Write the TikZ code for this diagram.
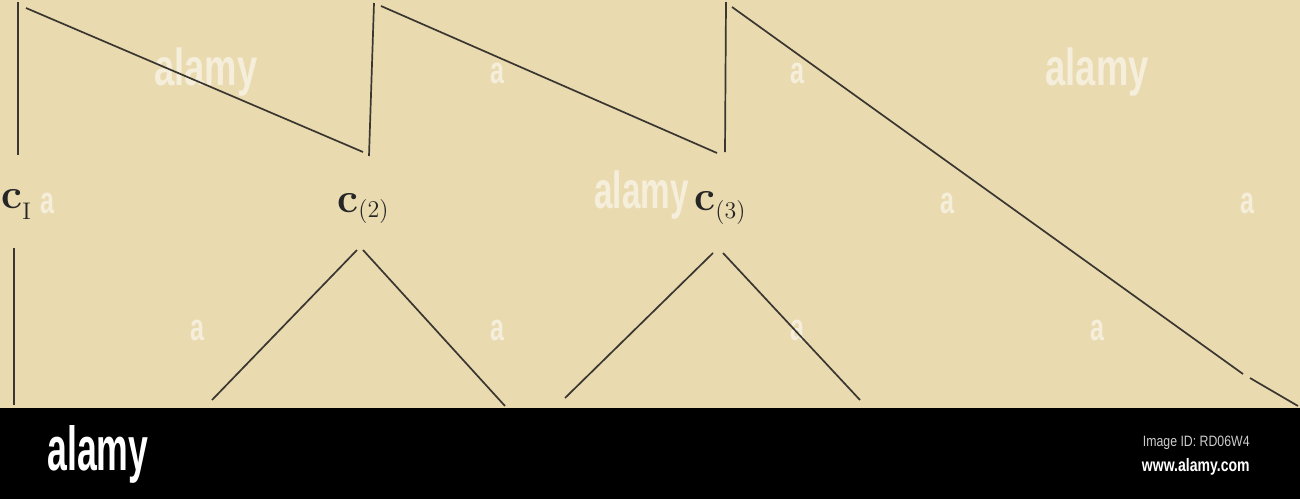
\documentclass[tikz,border=0pt]{standalone}
\usepackage{fontspec}
\usepackage{graphicx}
\setmainfont{Latin Modern Roman}
\newfontfamily\logofont{Liberation Sans}
\definecolor{paper}{RGB}{233,218,176}
\definecolor{ink}{RGB}{58,54,48}
\definecolor{idgray}{RGB}{205,205,205}
\begin{document}
\begin{tikzpicture}[x=0.5pt,y=-0.5pt,
  stroke/.style={draw=ink,line width=0.85pt},
  clabel/.style={anchor=base west,inner sep=0pt,text=black!85},
  wmark/.style={text=white,opacity=0.55,inner sep=0pt,font=\logofont\bfseries\fontsize{26}{26}\selectfont},
  wsmall/.style={text=white,opacity=0.55,inner sep=0pt,font=\logofont\bfseries\fontsize{19}{19}\selectfont}]
\useasboundingbox (0,0) rectangle (1300,499);
\fill[paper] (0,0) rectangle (1300,408);
\fill[black] (0,408) rectangle (1300,499);

% watermarks
\node[wmark] (w1) at (206,72) {\scalebox{0.7}[1]{alamy}};
\node[wmark] (w2) at (1097,72) {\scalebox{0.7}[1]{alamy}};
\node[wmark,anchor=east] (w3) at (689,195) {\scalebox{0.64}[1]{alamy}};
\foreach \i/\p in {a1/{(497,73)},a2/{(797,73)},a3/{(47,203)},a4/{(947,203)},a5/{(1247,203)},a6/{(197,330)},a7/{(497,330)},a8/{(797,330)},a9/{(1097,330)}}
  \node[wsmall] (\i) at \p {\scalebox{0.66}[1]{a}};

% upper saw-tooth
\coordinate (v1t) at (18,2);   \coordinate (v1b) at (18,155);
\coordinate (s1a) at (26,8);   \coordinate (s1b) at (363,152);
\coordinate (v2t) at (374,3);  \coordinate (v2b) at (369,156);
\coordinate (s2a) at (381,6);  \coordinate (s2b) at (717,153);
\coordinate (v3t) at (726,2);  \coordinate (v3b) at (725,152);
\coordinate (s3a) at (732,7);  \coordinate (s3b) at (1243,374);
\coordinate (s4a) at (1250,378); \coordinate (s4b) at (1298,406);
\draw[stroke] (v1t) -- (v1b);
\draw[stroke] (s1a) -- (s1b);
\draw[stroke] (v2t) -- (v2b);
\draw[stroke] (s2a) -- (s2b);
\draw[stroke] (v3t) -- (v3b);
\draw[stroke] (s3a) -- (s3b);
\draw[stroke] (s4a) -- (s4b);

% labels
\node[clabel] (c1) at (1,208) {{\fontsize{21}{21}\selectfont\bfseries c}\raisebox{-5.5pt}{\fontsize{12}{12}\selectfont I}};
\node[clabel] (c2) at (337,212) {{\fontsize{21}{21}\selectfont\bfseries c}\raisebox{-2.5pt}{\fontsize{12}{12}\selectfont(2)}};
\node[clabel] (c3) at (694,210) {{\fontsize{21}{21}\selectfont\bfseries c}\raisebox{-4pt}{\fontsize{12}{12}\selectfont(3)}};

% lower lines
\coordinate (l1t) at (14,248);  \coordinate (l1b) at (14,405);
\coordinate (t2l) at (357,250); \coordinate (b2l) at (212,400);
\coordinate (t2r) at (363,250); \coordinate (b2r) at (505,406);
\coordinate (t3l) at (713,253); \coordinate (b3l) at (565,398);
\coordinate (t3r) at (723,253); \coordinate (b3r) at (860,400);
\draw[stroke] (l1t) -- (l1b);
\draw[stroke] (t2l) -- (b2l);
\draw[stroke] (t2r) -- (b2r);
\draw[stroke] (t3l) -- (b3l);
\draw[stroke] (t3r) -- (b3r);

% footer
\node[anchor=west,inner sep=0pt,text=white,font=\logofont\bfseries\fontsize{27}{27}\selectfont] (logo) at (47,454) {\scalebox{0.66}[1.15]{alamy}};
\node[anchor=east,inner sep=0pt,text=idgray,font=\logofont\fontsize{7.5}{7.5}\selectfont] (imgid) at (1250,443) {\scalebox{0.82}[1]{Image ID: RD06W4}};
\node[anchor=east,inner sep=0pt,text=white,font=\logofont\bfseries\fontsize{9}{9}\selectfont] (www) at (1250,467) {\scalebox{0.78}[1]{www.alamy.com}};
\end{tikzpicture}
\end{document}
